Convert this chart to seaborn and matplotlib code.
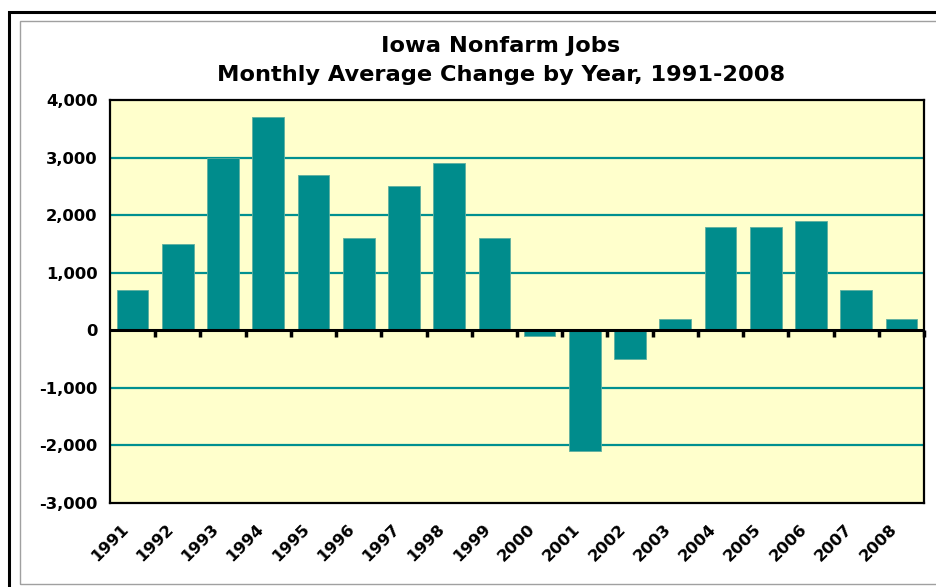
import matplotlib
matplotlib.use('Agg')
import matplotlib.pyplot as plt
import matplotlib.transforms as mtransforms
from matplotlib.patches import Rectangle
from matplotlib.ticker import FuncFormatter
import seaborn as sns
import pandas as pd

# data
years = [str(y) for y in range(1991, 2009)]
change = [700, 1500, 3000, 3700, 2700, 1600, 2500, 2900, 1600,
          -100, -2100, -500, 200, 1800, 1800, 1900, 700, 200]
yticks = [4000, 3000, 2000, 1000, 0, -1000, -2000, -3000]

df = pd.DataFrame({'year': years, 'change': change})

sns.set_style('white')
plt.rcParams['font.family'] = ['DejaVu Sans']
plt.rcParams['font.weight'] = 'bold'
plt.rcParams['text.color'] = 'black'
plt.rcParams['xtick.color'] = 'black'
plt.rcParams['ytick.color'] = 'black'

teal = '#008C8C'

fig = plt.figure(figsize=(9.36, 5.87), dpi=100)
ax = fig.add_axes([110/936, 1-503/587, (924-110)/936, (503-100)/587])
ax.set_facecolor('#FFFFCC')

sns.barplot(data=df, x='year', y='change', color=teal, width=0.7,
            saturation=1, edgecolor='#5FAFA0', linewidth=0.6, ax=ax, zorder=3)

ax.set_xlim(-0.5, len(years) - 0.5)
ax.set_ylim(-3000, 4000)
ax.set_yticks(yticks)
ax.yaxis.set_major_formatter(FuncFormatter(lambda v, p: f'{int(v):,}'))
for g in yticks:
    if g not in (0, 4000, -3000):
        ax.axhline(g, color='#009090', lw=1.6, zorder=1)
ax.axhline(0, color='black', lw=2.2, zorder=4)

for s in ax.spines.values():
    s.set_color('black')
    s.set_linewidth(1.6)

ax.set_xlabel('')
ax.set_ylabel('')
ax.tick_params(axis='y', direction='out', length=5, width=2.5, color='black',
               labelsize=11.8, pad=4)
ax.tick_params(axis='x', length=0, labelsize=11.8, pad=13)
shift = mtransforms.ScaledTranslation(-12/100, 0, fig.dpi_scale_trans)
for lab in ax.get_yticklabels():
    lab.set_fontweight('bold')
for lab in ax.get_xticklabels():
    lab.set_rotation(45)
    lab.set_ha('right')
    lab.set_rotation_mode('anchor')
    lab.set_fontweight('bold')
    lab.set_transform(lab.get_transform() + shift)

# category-boundary tick marks hanging below the zero line
sec = ax.secondary_xaxis(3/7)
sec.set_xticks([i + 0.5 for i in range(len(years))])
sec.tick_params(direction='out', length=5, width=2.5, color='black', labelbottom=False, labeltop=False,
                bottom=True, top=False)
sec.spines['bottom'].set_visible(False)
sec.spines['top'].set_visible(False)

fig.text(501/936, 1-46/587, 'Iowa Nonfarm Jobs', ha='center', va='center',
         fontsize=16.2, fontweight='bold', color='black')
fig.text(501/936, 1-75/587, 'Monthly Average Change by Year, 1991-2008', ha='center',
         va='center', fontsize=16.2, fontweight='bold', color='black')

# frames of the screenshot
fig.patches.append(Rectangle((9/936, -0.1), 1.2, 1.1 - 12/587, transform=fig.transFigure,
                             fill=False, edgecolor='black', lw=2.2, zorder=0))
fig.patches.append(Rectangle((20/936, 1-584/587), 1.2, (584-21)/587, transform=fig.transFigure,
                             fill=False, edgecolor='#A0A0A0', lw=1, zorder=0))

fig.savefig('out.png', dpi=100)
